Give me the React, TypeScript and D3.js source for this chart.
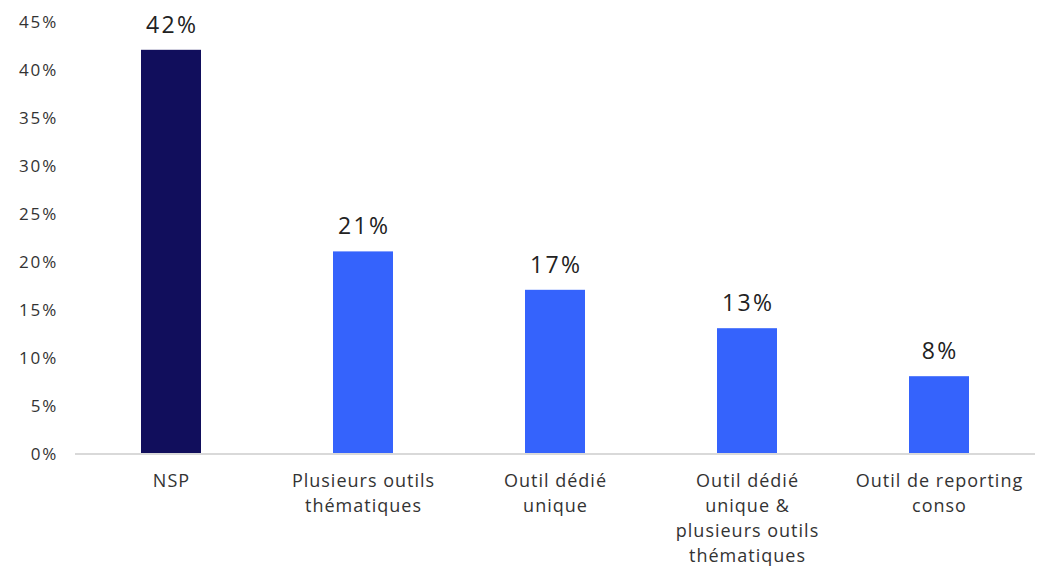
import { useEffect, useRef } from 'react';
import * as d3 from 'd3';

// Data
const categories = [
    ['NSP'],
    ['Plusieurs outils', 'thématiques'],
    ['Outil dédié', 'unique'],
    ['Outil dédié', 'unique &', 'plusieurs outils', 'thématiques'],
    ['Outil de reporting', 'conso'],
];
const values = [42, 21, 17, 13, 8];
const barColors = ['#110e5c', '#3563fc', '#3563fc', '#3563fc', '#3563fc'];
const yTicks = [0, 5, 10, 15, 20, 25, 30, 35, 40, 45];

const FONT = '"Open Sans", "Noto Sans", sans-serif';

export default function App() {
    const svgRef = useRef<SVGSVGElement>(null);

    useEffect(() => {
        if (!svgRef.current) return;
        const svg = d3.select(svgRef.current);
        svg.selectAll('*').remove();

        const width = 1038;
        const height = 566;
        const margin = { top: 21, right: 3, bottom: 113, left: 75 };
        const innerWidth = width - margin.left - margin.right;
        const innerHeight = height - margin.top - margin.bottom;

        const x = d3.scaleBand<number>()
            .domain(values.map((_, i) => i))
            .range([0, innerWidth])
            .paddingInner(0.6875)
            .paddingOuter(0.34375);

        const y = d3.scaleLinear()
            .domain([0, 45])
            .range([innerHeight, 0]);

        const g = svg.append('g')
            .attr('transform', `translate(${margin.left},${margin.top})`);

        // Y tick labels
        g.selectAll('.ytick')
            .data(yTicks)
            .enter()
            .append('text')
            .attr('x', -17)
            .attr('y', d => y(d))
            .attr('text-anchor', 'end')
            .attr('dominant-baseline', 'central')
            .attr('fill', '#333')
            .attr('font-family', FONT)
            .attr('font-size', '17px')
            .attr('letter-spacing', '1.8px')
            .text(d => `${d}%`);

        // Bars
        g.selectAll('.bar')
            .data(values)
            .enter()
            .append('rect')
            .attr('x', (_, i) => x(i) || 0)
            .attr('y', d => y(d))
            .attr('width', x.bandwidth())
            .attr('height', d => innerHeight - y(d))
            .attr('fill', (_, i) => barColors[i]);

        // Baseline
        g.append('line')
            .attr('x1', 0)
            .attr('x2', innerWidth)
            .attr('y1', innerHeight + 1)
            .attr('y2', innerHeight + 1)
            .attr('stroke', '#d9d9d9')
            .attr('stroke-width', 2);

        // Value labels
        g.selectAll('.val')
            .data(values)
            .enter()
            .append('text')
            .attr('x', (_, i) => (x(i) || 0) + x.bandwidth() / 2 + 1.2)
            .attr('y', d => y(d) - 17)
            .attr('text-anchor', 'middle')
            .attr('fill', '#222')
            .attr('font-family', FONT)
            .attr('font-size', '23px')
            .attr('letter-spacing', '2.4px')
            .text(d => `${d}%`);

        // Category labels
        categories.forEach((lines, i) => {
            const cx = (x(i) || 0) + x.bandwidth() / 2 + 0.5;
            const t = g.append('text')
                .attr('y', innerHeight + 34)
                .attr('text-anchor', 'middle')
                .attr('fill', '#333')
                .attr('font-family', FONT)
                .attr('font-size', '18px')
                .attr('letter-spacing', '1px');
            lines.forEach((line, j) => {
                t.append('tspan')
                    .attr('x', cx)
                    .attr('dy', j === 0 ? 0 : 25)
                    .text(line);
            });
        });
    }, []);

    return (
        <svg
            ref={svgRef}
            width={1038}
            height={566}
            style={{ position: 'absolute', left: 0, top: 0, background: '#fff' }}
        />
    );
}
